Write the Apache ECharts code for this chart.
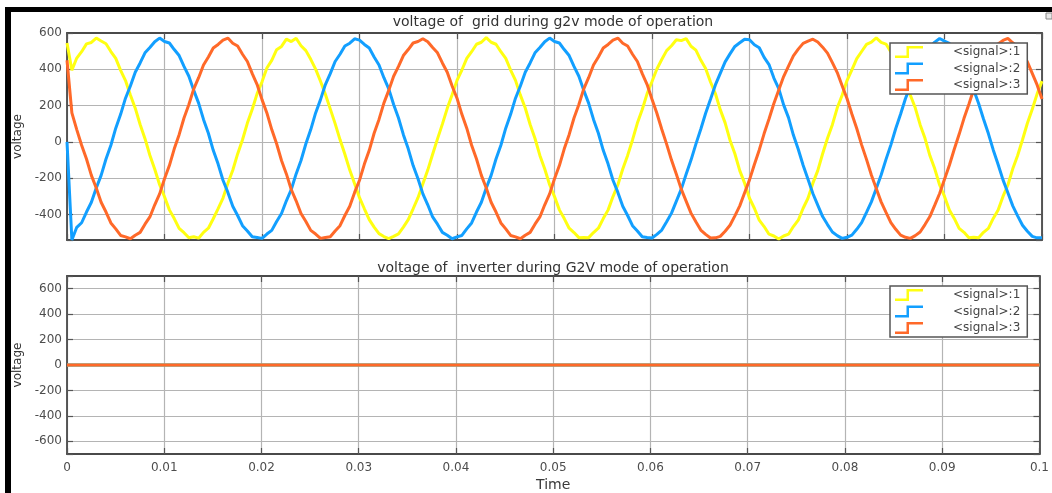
<!DOCTYPE html>
<html>
<head>
<meta charset="utf-8">
<script src="https://cdn.jsdelivr.net/npm/echarts@6/dist/echarts.min.js"></script>
<style>
  html, body { margin: 0; padding: 0; background: #ffffff; }
  #chart { width: 1052px; height: 493px; }
</style>
</head>
<body>
<div id="chart"></div>
<script>
// ---- data ----
const seriesNames = ['<signal>:1', '<signal>:2', '<signal>:3'];
const sampleStep = 0.0005; // s, sample spacing of the scope trace
const xTicks = [0, 0.01, 0.02, 0.03, 0.04, 0.05, 0.06, 0.07, 0.08, 0.09, 0.1];

const gridSignal1 = [
  545, 395, 462, 497, 540, 548, 572, 556, 541, 498, 460, 394, 338, 258, 186, 96, 18, -73, -150, -236,
  -302, -374, -422, -476, -500, -528, -522, -530, -498, -475, -423, -367, -309, -228, -156, -66, 12, 104, 180, 266,
  331, 407, 449, 508, 526, 566, 553, 571, 530, 503, 455, 401, 334, 263, 182, 101, 13, -68, -155, -230,
  -307, -368, -428, -469, -505, -521, -532, -520, -506, -469, -428, -368, -307, -230, -155, -68, 17, 98, 185, 260,
  339, 396, 460, 497, 538, 549, 574, 549, 538, 497, 460, 396, 339, 258, 187, 96, 19, -74, -149, -236,
  -301, -374, -422, -475, -499, -527, -526, -527, -499, -475, -422, -374, -301, -236, -149, -74, 11, 104, 179, 266,
  333, 402, 454, 503, 530, 563, 558, 569, 527, 506, 451, 405, 330, 267, 178, 105, 10, -65, -158, -227,
  -310, -365, -431, -466, -508, -518, -535, -518, -508, -466, -431, -365, -310, -227, -158, -65, 20, 95, 188, 257,
  338, 397, 459, 498, 537, 550, 573, 548, 539, 496, 461, 395, 340, 257, 188, 95, 20, -75, -148, -237,
  -300, -375, -421, -476, -498, -528, -525, -528, -498, -476, -421, -375, -300, -237, -148, -75, 12, 103, 180, 265,
  335
];
const gridSignal2 = [
  0, -540, -470, -445, -386, -332, -254, -184, -94, -18, 76, 152, 241, 308, 384, 435, 491, 520, 552, 572,
  553, 545, 509, 476, 416, 362, 284, 214, 124, 48, -46, -122, -211, -278, -354, -405, -461, -490, -522, -526,
  -531, -507, -487, -438, -394, -324, -262, -176, -102, -10, 68, 160, 233, 316, 376, 443, 483, 528, 544, 568,
  561, 537, 517, 468, 424, 354, 292, 206, 132, 40, -38, -130, -203, -286, -346, -413, -453, -498, -514, -533,
  -523, -515, -479, -446, -386, -332, -254, -184, -94, -18, 76, 152, 241, 308, 384, 435, 491, 520, 552, 572,
  553, 545, 509, 476, 416, 362, 284, 214, 124, 48, -46, -122, -211, -278, -354, -405, -461, -490, -522, -526,
  -529, -509, -485, -440, -392, -326, -260, -178, -100, -12, 70, 158, 235, 314, 378, 441, 485, 526, 546, 566,
  563, 535, 519, 466, 426, 352, 294, 204, 134, 38, -40, -128, -205, -284, -348, -411, -455, -496, -516, -531,
  -525, -513, -481, -444, -388, -330, -256, -182, -96, -16, 74, 154, 239, 310, 382, 437, 489, 522, 550, 570,
  555, 543, 511, 474, 418, 360, 286, 212, 126, 46, -44, -124, -209, -280, -352, -407, -459, -492, -520, -528,
  -527
];
const gridSignal3 = [
  450, 160, 68, -18, -94, -184, -254, -332, -386, -446, -479, -515, -523, -533, -514, -498, -453, -413, -346, -286,
  -203, -130, -38, 40, 132, 206, 292, 354, 424, 468, 517, 537, 561, 572, 544, 528, 483, 443, 376, 316,
  233, 160, 68, -10, -102, -176, -262, -324, -394, -438, -487, -507, -531, -526, -522, -490, -461, -405, -354, -278,
  -211, -122, -46, 48, 124, 214, 284, 362, 416, 476, 509, 545, 553, 568, 552, 520, 491, 435, 384, 308,
  241, 152, 76, -18, -94, -184, -254, -332, -386, -446, -479, -515, -523, -533, -514, -498, -453, -413, -346, -286,
  -203, -130, -38, 40, 132, 206, 292, 354, 424, 468, 517, 537, 561, 572, 544, 528, 483, 443, 376, 316,
  235, 158, 70, -12, -100, -178, -260, -326, -392, -440, -485, -509, -529, -528, -520, -492, -459, -407, -352, -280,
  -209, -124, -44, 46, 126, 212, 286, 360, 418, 474, 511, 543, 555, 566, 550, 522, 489, 437, 382, 310,
  239, 154, 74, -16, -96, -182, -256, -330, -388, -444, -481, -513, -525, -531, -516, -496, -455, -411, -348, -284,
  -205, -128, -40, 42, 130, 208, 290, 356, 422, 470, 515, 539, 559, 570, 546, 526, 485, 441, 378, 314,
  237
];

const inverterTime = [0, 0.1];
const inverterSignal1 = [0, 0];
const inverterSignal2 = [0, 0];
const inverterSignal3 = [0, 0];

// ---- build ----
const FONT = 'DejaVu Sans';
const colors = ['#FFFF11', '#129FFF', '#FF6929'];
const gridTime = gridSignal1.map((_, i) => +(i * sampleStep).toFixed(4));
const pairs = (ts, vs) => ts.map((t, i) => [t, vs[i]]);

const stepIcon = 'path://M0,9.5 L11.5,9.5 L11.5,0 L28,0 L28,2.5 L14,2.5 L14,12 L0,12 Z';

const axisLineStyle = { show: true, onZero: false, lineStyle: { color: '#4a4a4a', width: 1.8 } };
const tickStyle = { show: true, inside: true, length: 6, lineStyle: { color: '#555', width: 1.2 } };
const splitStyle = { show: true, lineStyle: { color: '#b4b4b4', width: 1.2 } };
const labelStyle = { fontFamily: FONT, fontSize: 12, color: '#4d4d4d' };
const yFmt = v => (Math.abs(Math.round(v) % 200) === 0 ? String(Math.round(v)) : '');

function xAxes(gridIndex, showLabels) {
  return [
    {
      gridIndex, type: 'value', min: 0, max: 0.1, interval: 0.01,
      axisLine: axisLineStyle, axisTick: tickStyle, splitLine: splitStyle,
      axisLabel: showLabels ? Object.assign({ margin: 8, showMinLabel: true, showMaxLabel: true,
        formatter: v => { const r = xTicks.find(t => Math.abs(t - v) < 1e-9); return r === undefined ? '' : String(r); } }, labelStyle) : { show: false },
      name: showLabels ? 'Time' : '', nameLocation: 'middle', nameGap: 24,
      nameTextStyle: { fontFamily: FONT, fontSize: 14, color: '#3a3a3a' }
    },
    {
      gridIndex, type: 'value', position: 'top', min: 0, max: 0.1, interval: 0.01,
      axisLine: axisLineStyle, axisTick: tickStyle, splitLine: { show: false }, axisLabel: { show: false }
    }
  ];
}
function yAxes(gridIndex, min, max, splitNumber) {
  return [
    {
      gridIndex, type: 'value', min, max, splitNumber,
      axisLine: axisLineStyle, axisTick: tickStyle, splitLine: splitStyle,
      axisLabel: Object.assign({ margin: 5, formatter: yFmt }, labelStyle),
      name: 'voltage', nameLocation: 'middle', nameGap: 33,
      nameTextStyle: { fontFamily: FONT, fontSize: 12, color: '#333' }
    },
    {
      gridIndex, type: 'value', position: 'right', min, max, splitNumber,
      axisLine: axisLineStyle, axisTick: tickStyle, splitLine: { show: false }, axisLabel: { show: false }
    }
  ];
}
function legend(top) {
  return {
    left: 890, top, orient: 'vertical',
    icon: stepIcon, itemWidth: 28, itemHeight: 12, itemGap: 4.5,
    padding: [3, 7, 3, 5],
    backgroundColor: '#ffffff', borderColor: '#555', borderWidth: 1.5,
    textStyle: { fontFamily: FONT, fontSize: 12, color: '#444', padding: [0, 0, 0, 25] },
    data: seriesNames
  };
}

const gridValues = [gridSignal1, gridSignal2, gridSignal3];
const invValues = [inverterSignal1, inverterSignal2, inverterSignal3];

const series = [];
gridValues.forEach((vals, i) => series.push({
  name: seriesNames[i], type: 'line', xAxisIndex: 0, yAxisIndex: 0,
  data: pairs(gridTime, vals), showSymbol: false, symbol: 'none',
  itemStyle: { color: colors[i] }, lineStyle: { color: colors[i], width: 3 }
}));
invValues.forEach((vals, i) => series.push({
  name: seriesNames[i], type: 'line', xAxisIndex: 2, yAxisIndex: 2,
  data: pairs(inverterTime, vals), showSymbol: false, symbol: 'none',
  itemStyle: { color: colors[i] }, lineStyle: { color: colors[i], width: 3 }
}));

const option = {
  animation: false,
  backgroundColor: '#ffffff',
  title: [
    { text: 'voltage of  grid during g2v mode of operation', left: 553, top: 15, textAlign: 'center', padding: 0,
      textStyle: { fontFamily: FONT, fontSize: 14, fontWeight: 'normal', color: '#333' } },
    { text: 'voltage of  inverter during G2V mode of operation', left: 553, top: 261, textAlign: 'center', padding: 0,
      textStyle: { fontFamily: FONT, fontSize: 14, fontWeight: 'normal', color: '#333' } }
  ],
  grid: [
    { left: 67, top: 33, width: 975, height: 207 },
    { left: 67, top: 276, width: 975, height: 180 }
  ],
  xAxis: [...xAxes(0, false), ...xAxes(1, true)],
  yAxis: [...yAxes(0, -540, 600, 6), ...yAxes(1, -700, 700, 7)],
  legend: [legend(43), legend(286)],
  series,
  graphic: [
    { type: 'rect', shape: { x: 5, y: 7, width: 1047, height: 5 }, style: { fill: '#000' }, z: 100 },
    { type: 'rect', shape: { x: 5, y: 7, width: 6, height: 486 }, style: { fill: '#000' }, z: 100 },
    { type: 'rect', shape: { x: 1046, y: 13, width: 6, height: 6 }, style: { fill: '#e8e8e8', stroke: '#888', lineWidth: 1 }, z: 100 }
  ]
};

const chart = echarts.init(document.getElementById('chart'), null, { renderer: 'canvas' });
chart.setOption(option);
</script>
</body>
</html>
